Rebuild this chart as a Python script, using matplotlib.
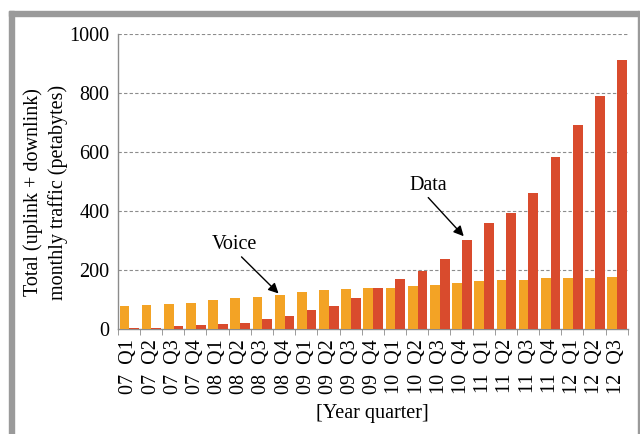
import numpy as np
import matplotlib
matplotlib.use("Agg")
import matplotlib.pyplot as plt
from matplotlib.patches import Rectangle

plt.rcParams['font.family'] = ['Liberation Serif', 'DejaVu Serif']

quarters = ["07  Q1", "07  Q2", "07  Q3", "07  Q4",
            "08  Q1", "08  Q2", "08  Q3", "08  Q4",
            "09  Q1", "09  Q2", "09  Q3", "09  Q4",
            "10  Q1", "10  Q2", "10  Q3", "10  Q4",
            "11  Q1", "11  Q2", "11  Q3", "11  Q4",
            "12  Q1", "12  Q2", "12  Q3"]
voice = [77, 81, 85, 90, 100, 105, 110, 116, 127, 132, 136, 138,
         141, 145, 150, 157, 163, 166, 167, 173, 174, 175, 176]
data = [3, 5, 10, 13, 18, 22, 35, 43, 65, 79, 106, 141,
        170, 198, 238, 303, 361, 393, 462, 582, 692, 790, 912]

orange = '#F3A325'
red = '#D94B2D'
grey = '#8c8c8c'

fig = plt.figure(figsize=(6.4, 4.34), dpi=100)
ax = fig.add_axes([0.184, 0.2415, 0.797, 0.68])

x = np.arange(len(quarters))
w = 0.44
ax.bar(x - 0.2, voice, w, color=orange, zorder=3)
ax.bar(x + 0.24, data, w, color=red, zorder=3)

ax.set_xlim(-0.5, len(quarters) - 0.5)
ax.set_ylim(0, 1000)
ax.set_yticks([0, 200, 400, 600, 800, 1000])
for y in [200, 400, 600, 800, 1000]:
    ax.axhline(y, color=grey, lw=0.8, ls=(0, (3, 2)), zorder=1)

ax.set_xticks(x)
ax.set_xticklabels(quarters, rotation=90)
ax.set_xticks(np.arange(len(quarters) + 1) - 0.5, minor=True)
ax.tick_params(axis='x', which='major', length=0, pad=7, labelsize=14.5)
ax.tick_params(axis='x', which='minor', length=4, color=grey, direction='out')
ax.tick_params(axis='y', length=0, pad=6, labelsize=14.5)

for s in ['top', 'right']:
    ax.spines[s].set_visible(False)
for s in ['left', 'bottom']:
    ax.spines[s].set_color(grey)
    ax.spines[s].set_linewidth(1)

ax.set_ylabel("Total (uplink + downlink)\nmonthly traffic (petabytes)", fontsize=14.5,
              linespacing=1.35)
ax.yaxis.set_label_coords(-0.098, 0.465)
ax.set_xlabel("[Year quarter]", fontsize=14.5, labelpad=7)

ax.text(4.78, 288, "Voice", fontsize=14.5, ha='center', va='center')
ax.annotate("", xy=(6.75, 121), xytext=(5.08, 245),
            arrowprops=dict(arrowstyle='-|>', color='black', lw=1, mutation_scale=15,
                            shrinkA=0, shrinkB=0))
ax.text(13.5, 487, "Data", fontsize=14.5, ha='center', va='center')
ax.annotate("", xy=(15.1, 315), xytext=(13.5, 446),
            arrowprops=dict(arrowstyle='-|>', color='black', lw=1, mutation_scale=15,
                            shrinkA=0, shrinkB=0))

# grey frame around the figure
fig.patches.append(Rectangle((9 / 640, 0), 5 / 640, 1 - 11 / 434, transform=fig.transFigure,
                             color='#9a9a9a', zorder=0))
fig.patches.append(Rectangle((9 / 640, 1 - 16 / 434), 630 / 640, 5 / 434, transform=fig.transFigure,
                             color='#9a9a9a', zorder=0))
fig.patches.append(Rectangle((637.5 / 640, 0), 1.5 / 640, 1 - 11 / 434, transform=fig.transFigure,
                             color='#9a9a9a', zorder=0))

fig.savefig("out.png", dpi=100)
